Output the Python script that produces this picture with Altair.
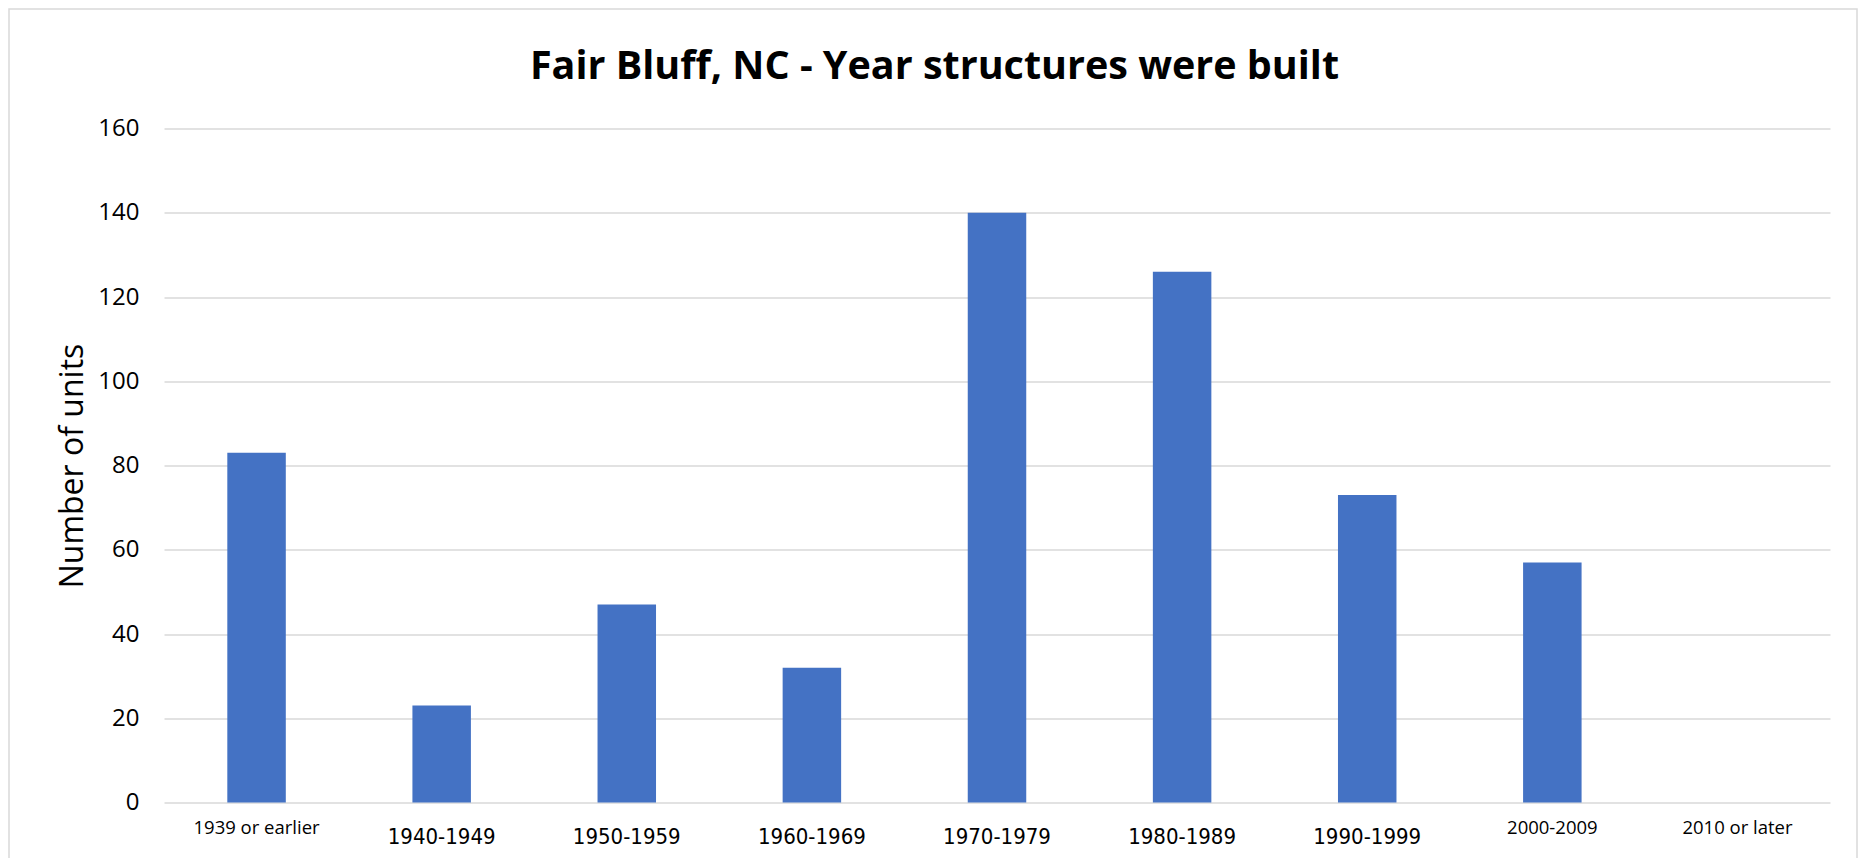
import altair as alt
import pandas as pd

title_text = "Fair Bluff, NC - Year structures were built"
categories = ["1939 or earlier", "1940-1949", "1950-1959", "1960-1969", "1970-1979",
              "1980-1989", "1990-1999", "2000-2009", "2010 or later"]
units = [83, 23, 47, 32, 140, 126, 73, 57, 0]
y_ticks = [0, 20, 40, 60, 80, 100, 120, 140, 160]
small_labels = ["1939 or earlier", "2000-2009", "2010 or later"]

df = pd.DataFrame({"period": categories, "units": units})

W, H = 1666, 674
test = "indexof(" + str(small_labels) + ", datum.value) >= 0"
narrow = "Liberation Sans Narrow, DejaVu Sans Condensed, Liberation Sans, Arial, sans-serif"

bars = alt.Chart(df).mark_bar(color="#4472C4").encode(
    x=alt.X("period:N", sort=categories,
            scale=alt.Scale(paddingInner=0.684, paddingOuter=0.342),
            axis=alt.Axis(title=None, labelAngle=0, domain=False, ticks=False, tickSize=0,
                          labelPadding=40.8, labelColor="#000000", labelLineHeight=30.6,
                          labelFont={"condition": {"test": test, "value": "Open Sans"},
                                     "value": narrow},
                          labelFontSize={"condition": {"test": test, "value": 18.5},
                                         "value": 22},
                          labelBaseline={"condition": {"test": test, "value": "line-bottom"},
                                         "value": "alphabetic"})),
    y=alt.Y("units:Q", scale=alt.Scale(domain=[0, 160], nice=False),
            axis=alt.Axis(values=y_ticks, title="Number of units", domain=False, ticks=False,
                          tickSize=0, labelPadding=25, labelFont="Open Sans", labelFontSize=24,
                          labelColor="#000000", labelBaseline="middle",
                          grid=True, gridColor="#d9d9d9", gridWidth=1.5,
                          titleFont="Open Sans", titleFontSize=32, titleFontWeight="normal",
                          titleColor="#000000", titleAngle=270, titleX=-82, titleY=H / 2,
                          titleAlign="center", titleBaseline="alphabetic")),
)

title = alt.Chart(pd.DataFrame({"t": [title_text]})).mark_text(
    font="Open Sans", fontSize=39.5, fontWeight="bold", color="#000000",
    align="center", baseline="alphabetic",
).encode(
    text="t:N",
    x=alt.value(770.5),
    y=alt.value(-50),
)

border = alt.Chart(pd.DataFrame({"b": [0]})).mark_rect(
    fill=None, stroke="#d9d9d9", strokeWidth=1.5
).encode(
    x=alt.value(-155),
    x2=alt.value(W + 27),
    y=alt.value(-119.5),
    y2=alt.value(H + 80),
)

chart = alt.layer(bars, title, border).properties(
    width=W,
    height=H,
    background="white",
    autosize=alt.AutoSizeParams(type="none"),
    padding={"left": 156, "top": 120.5, "right": 29, "bottom": 55},
).configure_view(strokeWidth=0, stroke="transparent")

chart.save("out.html", embed_options={"renderer": "svg", "actions": False})
